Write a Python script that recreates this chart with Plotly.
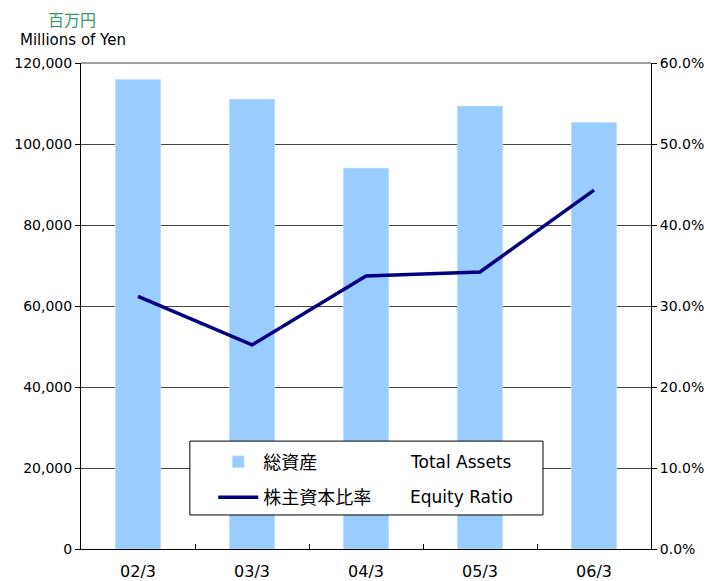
import plotly.graph_objects as go

categories = ["02/3", "03/3", "04/3", "05/3", "06/3"]
total_assets = [116000, 111100, 94100, 109400, 105400]
equity_ratio = [31.2, 25.2, 33.7, 34.2, 44.3]
left_ticks = [0, 20000, 40000, 60000, 80000, 100000, 120000]
right_ticks = [0, 10, 20, 30, 40, 50, 60]
right_tick_labels = ["0.0%", "10.0%", "20.0%", "30.0%", "40.0%", "50.0%", "60.0%"]

FONT = "DejaVu Sans, Noto Sans CJK JP, sans-serif"

fig = go.Figure()
fig.add_trace(go.Bar(
    x=categories, y=total_assets, name="総資産", marker_color="#99CCFF",
    width=0.4, legendgroup="a", yaxis="y"))
fig.add_trace(go.Scatter(
    x=categories, y=equity_ratio, name="株主資本比率", mode="lines",
    line=dict(color="#000080", width=3.5), legendgroup="b", yaxis="y2"))

# page body has an 8px margin, so the figure is 8px smaller
fig.update_layout(
    width=704, height=573,
    margin=dict(l=73, r=61, t=55, b=32, autoexpand=False),
    paper_bgcolor="white", plot_bgcolor="white",
    font=dict(family=FONT, size=14, color="black"),
    showlegend=True,
    legend=dict(x=0.232, y=0.217, xanchor="left", yanchor="top",
                bgcolor="rgba(0,0,0,0)", tracegroupgap=9,
                font=dict(size=18), itemwidth=40),
    xaxis=dict(type="category", showline=True, linecolor="black", linewidth=1,
               ticks="inside", ticklen=5, tickcolor="black", tickson="boundaries",
               ticklabelstandoff=8, showgrid=False, automargin=False,
               tickfont=dict(size=16)),
    yaxis=dict(range=[0, 120000], tickvals=left_ticks, tickformat=",d",
               showline=True, linecolor="black", linewidth=1,
               ticks="outside", ticklen=5, tickcolor="black", automargin=False,
               showgrid=True, gridcolor="#444444", gridwidth=1, zeroline=False),
    yaxis2=dict(range=[0, 60], tickvals=right_ticks, ticktext=right_tick_labels,
                overlaying="y", side="right", showline=True, linecolor="black",
                linewidth=1, ticks="outside", ticklen=5, tickcolor="black",
                showgrid=False, zeroline=False, automargin=False),
    bargap=0.6,
)

# legend frame
fig.add_shape(type="rect", xref="paper", yref="paper",
              x0=0.191, x1=0.8105, y0=0.07, y1=0.222,
              fillcolor="white", line=dict(color="black", width=1), layer="above")
# top frame line
fig.add_shape(type="line", xref="paper", yref="paper", x0=0, x1=1, y0=1, y1=1,
              line=dict(color="#808080", width=1.5), layer="above")

fig.add_annotation(text="Total Assets", xref="paper", yref="paper",
                   x=0.574, y=0.179, xanchor="left", yanchor="middle",
                   showarrow=False, font=dict(size=17))
fig.add_annotation(text="Equity Ratio", xref="paper", yref="paper",
                   x=0.574, y=0.107, xanchor="left", yanchor="middle",
                   showarrow=False, font=dict(size=17))
fig.add_annotation(text="百万円", xref="paper", yref="paper",
                   x=-0.016, y=1.088, xanchor="center", yanchor="middle",
                   showarrow=False, font=dict(size=16, color="#339966"))
fig.add_annotation(text="Millions of Yen", xref="paper", yref="paper",
                   x=-0.014, y=1.047, xanchor="center", yanchor="middle",
                   showarrow=False, font=dict(size=15))

fig.write_html("out.html")
